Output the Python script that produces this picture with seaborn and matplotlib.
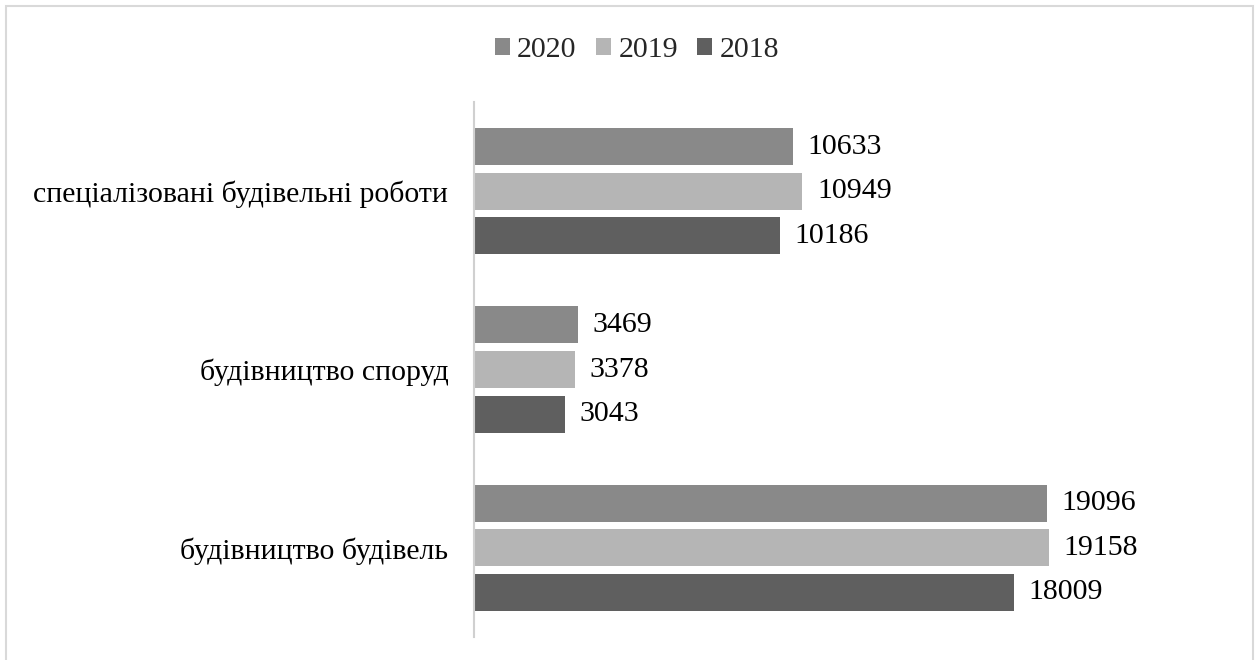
import matplotlib
matplotlib.use("Agg")
import matplotlib.pyplot as plt
import seaborn as sns
import pandas as pd
from matplotlib.patches import Rectangle

categories = ["спеціалізовані будівельні роботи", "будівництво споруд", "будівництво будівель"]
years = ["2020", "2019", "2018"]
v2020 = [10633, 3469, 19096]
v2019 = [10949, 3378, 19158]
v2018 = [10186, 3043, 18009]
colors = ["#898989", "#b5b5b5", "#5f5f5f"]

rows = []
for yr, vals in zip(years, [v2020, v2019, v2018]):
    for c, v in zip(categories, vals):
        rows.append({"cat": c, "year": yr, "value": v})
df = pd.DataFrame(rows)

sns.set_theme(style="white")
plt.rcParams["font.family"] = ["Liberation Serif", "DejaVu Serif"]

fig = plt.figure(figsize=(12.59, 6.6), dpi=100)
ax = fig.add_axes([474/1259, 1-637/660, 750/1259, 535/660])
sns.barplot(data=df, x="value", y="cat", hue="year", order=categories,
            hue_order=years, palette=colors, orient="h", width=0.75, gap=0.17,
            saturation=1, linewidth=0, ax=ax, legend=True, errorbar=None)

ax.set_xlim(0, 25000)
ax.set_ylim(2.5, -0.5)
ax.set_xlabel("")
ax.set_ylabel("")
ax.set_xticks([])
for s in ["top", "right", "bottom"]:
    ax.spines[s].set_visible(False)
ax.spines["left"].set_color("#d0d0d0")
ax.spines["left"].set_linewidth(1.5)
ax.tick_params(axis="y", length=0, pad=18.5, labelsize=21.5, colors="black")

for cont in ax.containers:
    ax.bar_label(cont, labels=[f"{int(v)}" for v in cont.datavalues],
                 padding=10.5, fontsize=21.5, color="black")

handles, labels = ax.get_legend_handles_labels()
ax.get_legend().remove()
fig.legend(handles, labels, loc="center", bbox_to_anchor=(637/1259, 1-50/660),
           ncol=3, frameon=False, fontsize=21.5, handlelength=0.5, handleheight=0.5,
           handletextpad=0.25, columnspacing=0.65)

fig.patches.append(Rectangle((6/1259, -0.05), 1247/1259, 1.05-6/660,
                             transform=fig.transFigure, fill=False,
                             edgecolor="#d9d9d9", linewidth=1.5))

fig.savefig("out.png", dpi=100, facecolor="white")
